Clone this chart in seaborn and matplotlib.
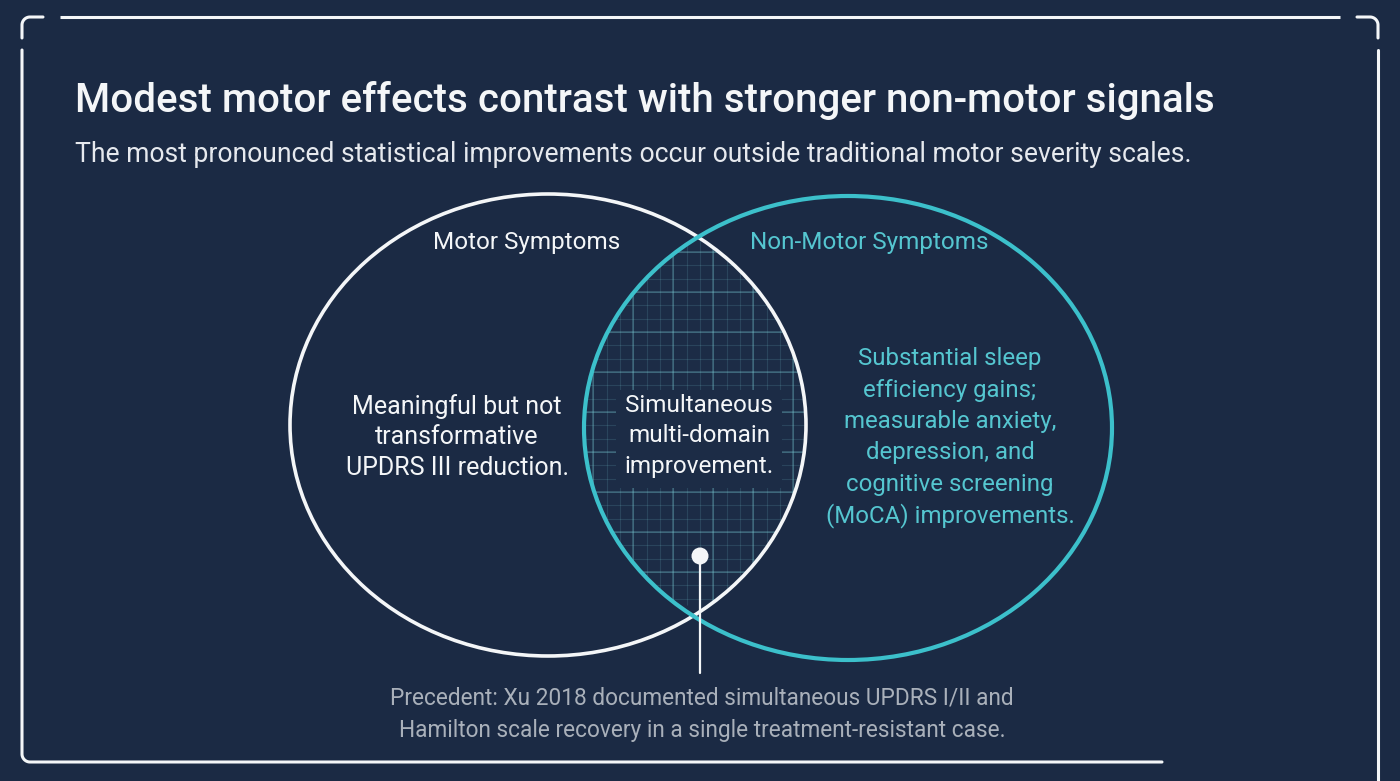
import numpy as np
import matplotlib
matplotlib.use("Agg")
import matplotlib.pyplot as plt
import seaborn as sns
from matplotlib.patches import Ellipse, Polygon, Circle, Rectangle

# --- content ---
title = "Modest motor effects contrast with stronger non-motor signals"
subtitle = "The most pronounced statistical improvements occur outside traditional motor severity scales."
set_labels = ["Motor Symptoms", "Non-Motor Symptoms"]
left_text = ["Meaningful but not", "transformative", "UPDRS III reduction."]
mid_text = ["Simultaneous", "multi-domain", "improvement."]
right_text = ["Substantial sleep", "efficiency gains;", "measurable anxiety,",
              "depression, and", "cognitive screening", "(MoCA) improvements."]
note_text = ["Precedent: Xu 2018 documented simultaneous UPDRS I/II and",
             "Hamilton scale recovery in a single treatment-resistant case."]

BG = "#1b2a44"
LENS = "#1c2c46"
TEAL = "#3cc0cb"
TEAL_TXT = "#55c6d0"
WHITE = "#f4f6f8"
GREY = "#a9b0ba"

sns.set_theme(style="dark")
plt.rcParams["font.family"] = ["Roboto", "DejaVu Sans"]

fig = plt.figure(figsize=(14, 7.81), dpi=100, facecolor=BG)
ax = fig.add_axes([0, 0, 1, 1])
ax.set_facecolor(BG)
ax.set_xlim(0, 1400)
ax.set_ylim(781, 0)
ax.axis("off")

# --- frame ---
fw = 2.2
def corner(cx, cy, r, a0, a1, n=20):
    t = np.linspace(np.radians(a0), np.radians(a1), n)
    return cx + r * np.cos(t), cy + r * np.sin(t)

ax.plot([60, 1340], [17, 17], color=WHITE, lw=fw, solid_capstyle="butt")
cx, cy = corner(30, 25, 8, 180, 270)
ax.plot(np.r_[22, cx, 43], np.r_[38, cy, 17], color=WHITE, lw=fw)
cx, cy = corner(1370, 25, 8, 270, 360)
ax.plot(np.r_[1357, cx, 1378], np.r_[17, cy, 38], color=WHITE, lw=fw)
cx, cy = corner(30, 754, 8, 180, 90)
ax.plot(np.r_[22, cx, 1162], np.r_[50, cy, 762], color=WHITE, lw=fw)
ax.plot([1378, 1378], [50, 790], color=WHITE, lw=fw)

# --- titles ---
ax.text(75, 100, title, fontsize=29, color=WHITE, fontweight="medium",
        ha="left", va="center")
ax.text(75, 155, subtitle, fontsize=19.1, color="#e6e9ee", ha="left", va="center")

# --- venn ---
c1, r1 = (548, 425), (258, 231)
c2, r2 = (848, 428), (264, 232)

def inside(px, py, c, r):
    return ((px - c[0]) / r[0]) ** 2 + ((py - c[1]) / r[1]) ** 2 <= 1.0

t = np.linspace(0, 2 * np.pi, 2000)
p1 = np.c_[c1[0] + r1[0] * np.cos(t), c1[1] + r1[1] * np.sin(t)]
p2 = np.c_[c2[0] + r2[0] * np.cos(t), c2[1] + r2[1] * np.sin(t)]
pts = np.r_[p1[inside(p1[:, 0], p1[:, 1], c2, r2)],
            p2[inside(p2[:, 0], p2[:, 1], c1, r1)]]
mid = pts.mean(axis=0)
order = np.argsort(np.arctan2(pts[:, 1] - mid[1], pts[:, 0] - mid[0]))
lens = Polygon(pts[order], closed=True, facecolor=LENS, edgecolor="none")
ax.add_patch(lens)

# blueprint grid inside the overlap
step = 40 / 3
minor_x = 620 + step * np.arange(-5, 17)
minor_y = 332 + step * np.arange(-11, 21)
major_x = minor_x[::3]
major_y = minor_y[2::3]
for xs, ys, a, w in [(minor_x, minor_y, 0.15, 0.8), (major_x, major_y, 0.32, 1.1)]:
    vl = ax.vlines(xs, 190, 605, color="#7fd3da", alpha=a, lw=w)
    hl = ax.hlines(ys[ys < 605], 555, 845, color="#7fd3da", alpha=a, lw=w)
    vl.set_clip_path(lens)
    hl.set_clip_path(lens)
mask = Rectangle((616, 390), 166, 98, facecolor=LENS, edgecolor="none", zorder=2.5)
ax.add_patch(mask)
mask.set_clip_path(lens)

ax.add_patch(Ellipse(c1, 2 * r1[0], 2 * r1[1], fill=False, edgecolor=WHITE, lw=2.6, zorder=3))
ax.add_patch(Ellipse(c2, 2 * r2[0], 2 * r2[1], fill=False, edgecolor=TEAL, lw=3.0, zorder=3))

ax.text(527, 242, set_labels[0], fontsize=17.5, color=WHITE, ha="center", va="center")
ax.text(869, 242, set_labels[1], fontsize=17.5, color=TEAL_TXT, ha="center", va="center")

def block(lines, x, y0, step, color, size=17.5):
    for i, s in enumerate(lines):
        ax.text(x, y0 + i * step, s, fontsize=size, color=color, ha="center",
                va="center", zorder=4)

block(left_text, 457, 407, 30.5, WHITE, 18)
block(mid_text, 699, 405, 30.5, WHITE)
block(right_text, 950, 359, 31.3, TEAL_TXT, 17.3)

# --- pin + note ---
ax.plot([700, 700], [556, 673], color=WHITE, lw=1.6, zorder=4)
ax.add_patch(Circle((700, 556), 8.5, facecolor=WHITE, edgecolor="none", zorder=5))
block(note_text, 702, 698, 32, GREY, 16.3)

fig.savefig("out.png", dpi=100, facecolor=BG)
